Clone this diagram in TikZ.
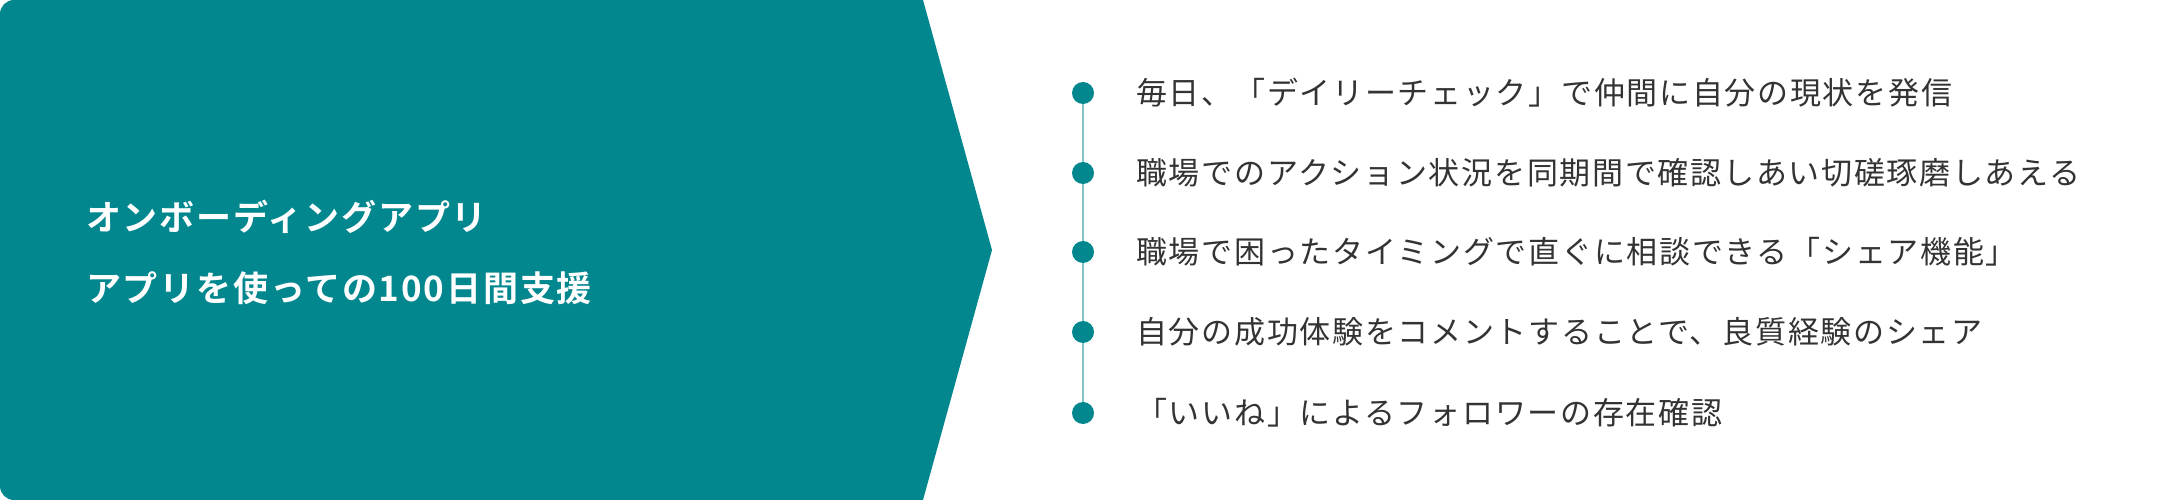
\documentclass[tikz,border=0pt]{standalone}
\usepackage{fontspec}
\newfontfamily\jpbody[LetterSpace=5.5]{Noto Sans CJK JP}
\newfontfamily\jptitle[LetterSpace=5.2]{Noto Sans CJK JP Bold}
\definecolor{tealmain}{HTML}{03878E}
\definecolor{teallight}{HTML}{80C2C6}
\definecolor{bodytext}{HTML}{333333}
\tikzset{
  bulletdot/.style={circle, fill=tealmain, minimum size=22pt, inner sep=0pt},
  itemtext/.style={anchor=west, inner sep=0pt, text=bodytext, font=\jpbody\fontsize{31}{37}\selectfont},
  titletext/.style={anchor=west, inner sep=0pt, text=white, font=\jptitle\fontsize{35}{41}\selectfont},
  linkline/.style={draw=teallight, line width=2pt}
}
\begin{document}
\begin{tikzpicture}[x=1pt,y=1pt]
\useasboundingbox (0,0) rectangle (2160,500);
\fill[white] (0,0) rectangle (2160,500);
\fill[tealmain] (923,0) -- (992,250) -- (923,500) -- (14,500)
  arc[start angle=90, end angle=180, radius=14] -- (0,14)
  arc[start angle=180, end angle=270, radius=14] -- cycle;
\node[titletext] (t1) at (86,283) {オンボーディングアプリ};
\node[titletext] (t2) at (86,212) {アプリを使っての100日間支援};
\node[bulletdot] (b1) at (1083,407) {};
\node[bulletdot] (b2) at (1083,327) {};
\node[bulletdot] (b3) at (1083,248) {};
\node[bulletdot] (b4) at (1083,168) {};
\node[bulletdot] (b5) at (1083,87) {};
\draw[linkline] (b1) -- (b2);
\draw[linkline] (b2) -- (b3);
\draw[linkline] (b3) -- (b4);
\draw[linkline] (b4) -- (b5);
\node[itemtext] (i1) at (1136,407) {毎日、「デイリーチェック」で仲間に自分の現状を発信};
\node[itemtext] (i2) at (1136,327) {職場でのアクション状況を同期間で確認しあい切磋琢磨しあえる};
\node[itemtext] (i3) at (1136,248) {職場で困ったタイミングで直ぐに相談できる「シェア機能」};
\node[itemtext] (i4) at (1136,168) {自分の成功体験をコメントすることで、良質経験のシェア};
\node[itemtext] (i5) at (1136,87) {「いいね」によるフォロワーの存在確認};
\end{tikzpicture}
\end{document}
